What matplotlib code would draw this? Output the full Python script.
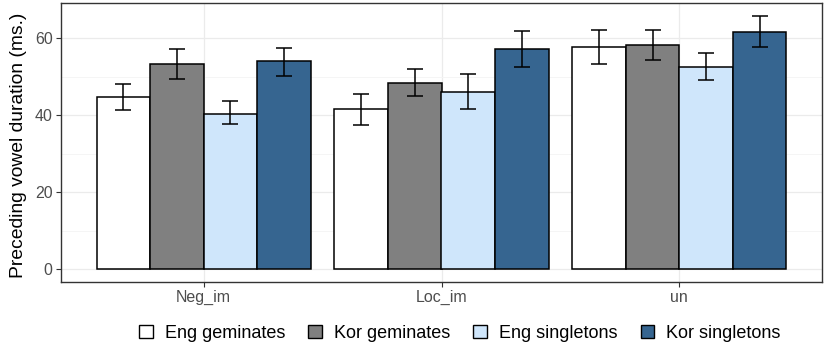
import matplotlib
matplotlib.use("Agg")
import matplotlib.pyplot as plt
import numpy as np
from matplotlib.patches import Patch

plt.rcParams['font.family'] = ['Liberation Sans', 'DejaVu Sans']

categories = ["Neg_im", "Loc_im", "un"]
series = ["Eng geminates", "Kor geminates", "Eng singletons", "Kor singletons"]
values = {
    "Eng geminates":  [44.7, 41.5, 57.8],
    "Kor geminates":  [53.2, 48.3, 58.2],
    "Eng singletons": [40.4, 46.1, 52.5],
    "Kor singletons": [54.0, 57.2, 61.5],
}
err_low = {
    "Eng geminates":  [41.3, 37.4, 53.3],
    "Kor geminates":  [49.4, 45.0, 54.3],
    "Eng singletons": [37.7, 41.5, 49.0],
    "Kor singletons": [50.1, 52.5, 57.6],
}
err_high = {
    "Eng geminates":  [48.2, 45.4, 62.2],
    "Kor geminates":  [57.2, 51.9, 62.2],
    "Eng singletons": [43.6, 50.7, 56.2],
    "Kor singletons": [57.5, 61.8, 65.8],
}
colors = ["#ffffff", "#808080", "#cfe6fb", "#366590"]
yticks = [0, 20, 40, 60]

fig = plt.figure(figsize=(8.27, 3.49), dpi=100)
ax = fig.add_axes([61/827, 1-282/349, (822-61)/827, (282-3)/349])

x = np.arange(1, len(categories)+1)
bw = 0.9/len(series)
for i, s in enumerate(series):
    xs = x - 0.45 + bw*(i+0.5)
    v = np.array(values[s])
    ax.bar(xs, v, width=bw, color=colors[i], edgecolor="black", linewidth=1.1, zorder=3)
    lo = v - np.array(err_low[s])
    hi = np.array(err_high[s]) - v
    ax.errorbar(xs, v, yerr=[lo, hi], fmt="none", ecolor="black", elinewidth=1.1,
                capsize=5.5, capthick=1.1, zorder=4)

ax.set_xlim(0.4, 3.6)
ax.set_ylim(-3.3, 69.1)
ax.set_xticks(x)
ax.set_xticklabels(categories)
ax.set_yticks(yticks)
ax.set_yticks([10, 30, 50], minor=True)
ax.grid(True, which="major", color="#ebebeb", linewidth=0.9, zorder=0)
ax.grid(True, which="minor", axis="y", color="#f4f4f4", linewidth=0.6, zorder=0)
ax.tick_params(axis="both", which="major", length=3.5, color="#333333", labelcolor="#4d4d4d",
               labelsize=11.5, width=0.8, pad=2.5)
ax.tick_params(axis="y", which="minor", length=0)
for sp in ax.spines.values():
    sp.set_color("#333333")
    sp.set_linewidth(1.0)
ax.set_axisbelow(True)
ax.set_ylabel("Preceding vowel duration (ms.)", fontsize=13.9, color="black")
ax.yaxis.set_label_coords(-34/761, 0.49)

handles = [Patch(facecolor=colors[i], edgecolor="black", linewidth=1.0, label=s)
           for i, s in enumerate(series)]
fig.legend(handles=handles, loc="center", bbox_to_anchor=(0.556, 1-333/349), ncol=4,
           frameon=False, fontsize=13, handlelength=0.75, handleheight=0.75,
           handletextpad=0.65, columnspacing=1.3)

fig.savefig("out.png", dpi=100)
